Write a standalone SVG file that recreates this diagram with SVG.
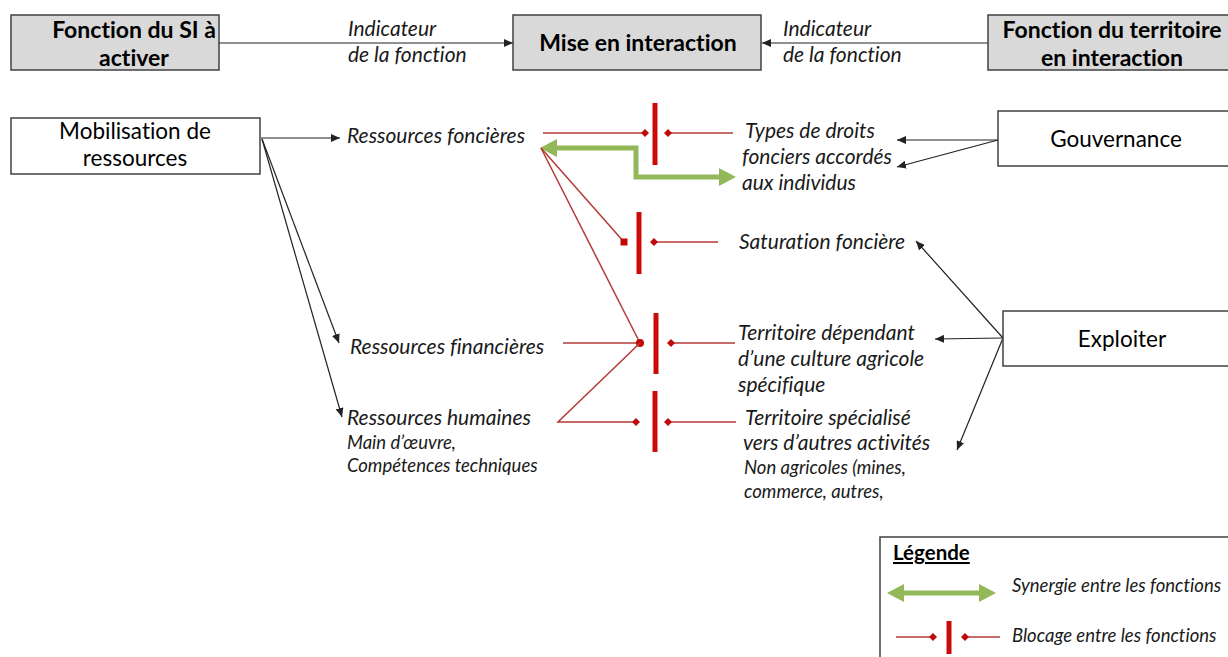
<svg xmlns="http://www.w3.org/2000/svg" width="1228" height="657" viewBox="0 0 1228 657">
<style>
text{font-variant-ligatures:none}
.box{stroke:#404040;stroke-width:1.5}
.gray{fill:#d9d9d9}
.white{fill:#ffffff}
.hb{font-family:Lato,"Liberation Sans",sans-serif;font-weight:bold;font-size:23px;fill:#000;text-anchor:middle}
.hn{font-family:Lato,"Liberation Sans",sans-serif;font-size:22.5px;fill:#000;text-anchor:middle}
.it{font-family:Lato,"Liberation Sans",sans-serif;font-style:italic;font-size:21px;fill:#1a1a1a}
.its{font-family:Lato,"Liberation Sans",sans-serif;font-style:italic;font-size:18.5px;fill:#1a1a1a}
.blk{stroke:#222;stroke-width:1.2;fill:none;marker-end:url(#ah)}
.red{stroke:#b53a36;stroke-width:1.5;fill:none}
.bar{stroke:#cc0a0a;stroke-width:5}
.grn{stroke:#93b85a;stroke-width:5;fill:none;marker-start:url(#gh);marker-end:url(#gh)}
</style>
<defs>
<marker id="ah" markerUnits="userSpaceOnUse" markerWidth="9" markerHeight="8" refX="9" refY="4" orient="auto"><path d="M0,0 L9,4 L0,8 z" fill="#222"/></marker>
<marker id="dm" markerUnits="userSpaceOnUse" markerWidth="8" markerHeight="8" refX="4" refY="4" orient="auto"><path d="M0,4 L4,0 L8,4 L4,8 z" fill="#c00a0a"/></marker>
<marker id="sq" markerUnits="userSpaceOnUse" markerWidth="8" markerHeight="8" refX="4" refY="4"><rect x="0.5" y="0.5" width="7" height="7" fill="#c00a0a"/></marker>
<marker id="dot" markerUnits="userSpaceOnUse" markerWidth="9" markerHeight="9" refX="4.5" refY="4.5"><circle cx="4.5" cy="4.5" r="4" fill="#c00a0a"/></marker>
<marker id="gh" markerUnits="userSpaceOnUse" markerWidth="17" markerHeight="18" refX="6" refY="9" orient="auto-start-reverse"><path d="M0,0 L17,9 L0,18 z" fill="#93b85a"/></marker>
</defs>
<rect width="1228" height="657" fill="#fff"/>

<g id="connectors">
  <line class="blk" x1="219" y1="43" x2="513" y2="43"/>
  <line class="blk" x1="988" y1="43" x2="762" y2="43"/>
  <line class="blk" x1="261" y1="138" x2="340" y2="138"/>
  <line class="blk" x1="262" y1="139" x2="339" y2="343"/>
  <line class="blk" x1="262" y1="139" x2="342" y2="417"/>
  <line class="blk" x1="998" y1="140" x2="897" y2="140"/>
  <line class="blk" x1="998" y1="140" x2="897" y2="167"/>
  <line class="blk" x1="1003" y1="338" x2="916" y2="241"/>
  <line class="blk" x1="1003" y1="338" x2="935" y2="339"/>
  <line class="blk" x1="1003" y1="338" x2="957" y2="450"/>
  <path class="grn" d="M551,148 L636,148 L636,177 L725,177"/>
  <line class="red" x1="543" y1="133" x2="645" y2="133" marker-end="url(#dm)"/>
  <line class="red" x1="733" y1="133" x2="668" y2="133" marker-end="url(#dm)"/>
  <line class="red" x1="541" y1="148" x2="624" y2="242" marker-end="url(#sq)"/>
  <line class="red" x1="718" y1="242" x2="654" y2="242" marker-end="url(#dm)"/>
  <line class="red" x1="541" y1="148" x2="640" y2="343"/>
  <line class="red" x1="563" y1="343" x2="640" y2="343" marker-end="url(#dot)"/>
  <line class="red" x1="735" y1="343" x2="671" y2="343" marker-end="url(#dm)"/>
  <path class="red" d="M640,343 L558,422 L636,422" marker-end="url(#dm)"/>
  <line class="red" x1="736" y1="422" x2="668" y2="422" marker-end="url(#dm)"/>
  <line class="bar" x1="655" y1="103" x2="655" y2="165"/>
  <line class="bar" x1="639" y1="212" x2="639" y2="274"/>
  <line class="bar" x1="656" y1="313" x2="656" y2="374"/>
  <line class="bar" x1="655" y1="391" x2="655" y2="452"/>
</g>

<g id="fonction-si">
  <rect class="box gray" x="11" y="15" width="208" height="55"/>
  <text class="hb" x="134" y="38">Fonction du SI à</text>
  <text class="hb" x="134" y="66">activer</text>
</g>
<g id="mise-en-interaction">
  <rect class="box gray" x="513" y="15" width="248" height="55"/>
  <text class="hb" x="638" y="51">Mise en interaction</text>
</g>
<g id="fonction-territoire">
  <rect class="box gray" x="988" y="15" width="245" height="55"/>
  <text class="hb" x="1112" y="38">Fonction du territoire</text>
  <text class="hb" x="1112" y="66">en interaction</text>
</g>
<g id="indicateur-gauche">
  <text class="it" x="348" y="36">Indicateur</text>
  <text class="it" x="348" y="62">de la fonction</text>
</g>
<g id="indicateur-droite">
  <text class="it" x="783" y="36">Indicateur</text>
  <text class="it" x="783" y="62">de la fonction</text>
</g>

<g id="mobilisation">
  <rect class="box white" x="11" y="118" width="249" height="56"/>
  <text class="hn" x="135" y="139">Mobilisation de</text>
  <text class="hn" x="135" y="166">ressources</text>
</g>
<g id="gouvernance">
  <rect class="box white" x="998" y="111" width="235" height="55"/>
  <text class="hn" x="1116" y="147">Gouvernance</text>
</g>
<g id="exploiter">
  <rect class="box white" x="1003" y="311" width="230" height="55"/>
  <text class="hn" x="1122" y="347">Exploiter</text>
</g>

<g id="ressources-foncieres">
  <text class="it" x="347" y="143">Ressources foncières</text>
</g>
<g id="ressources-financieres">
  <text class="it" x="350" y="354">Ressources financières</text>
</g>
<g id="ressources-humaines">
  <text class="it" x="347" y="425">Ressources humaines</text>
  <text class="its" x="347" y="449">Main d’œuvre,</text>
  <text class="its" x="347" y="472">Compétences techniques</text>
</g>
<g id="types-droits">
  <text class="it" x="745" y="138">Types de droits</text>
  <text class="it" x="742" y="164">fonciers accordés</text>
  <text class="it" x="742" y="190">aux individus</text>
</g>
<g id="saturation">
  <text class="it" x="739" y="249">Saturation foncière</text>
</g>
<g id="territoire-dependant">
  <text class="it" x="738" y="340">Territoire dépendant</text>
  <text class="it" x="738" y="366">d’une culture agricole</text>
  <text class="it" x="738" y="392">spécifique</text>
</g>
<g id="territoire-specialise">
  <text class="it" x="745" y="425">Territoire spécialisé</text>
  <text class="it" x="743" y="450">vers d’autres activités</text>
  <text class="its" x="744" y="474">Non agricoles (mines,</text>
  <text class="its" x="744" y="498">commerce, autres,</text>
</g>

<g id="legende">
  <rect x="880" y="537" width="360" height="130" fill="#fff" stroke="#404040" stroke-width="1.5"/>
  <text x="893" y="560" font-family="Lato,'Liberation Sans',sans-serif" font-weight="bold" font-size="20.5" text-decoration="underline" fill="#000">Légende</text>
  <line class="grn" x1="898" y1="593" x2="985" y2="593"/>
  <text class="its" x="1012" y="592">Synergie entre les fonctions</text>
  <line class="red" x1="896" y1="637" x2="933" y2="637" marker-end="url(#dm)"/>
  <line class="bar" x1="949" y1="621" x2="949" y2="654"/>
  <line class="red" x1="1000" y1="637" x2="965" y2="637" marker-end="url(#dm)"/>
  <text class="its" x="1012" y="642">Blocage entre les fonctions</text>
</g>
</svg>
